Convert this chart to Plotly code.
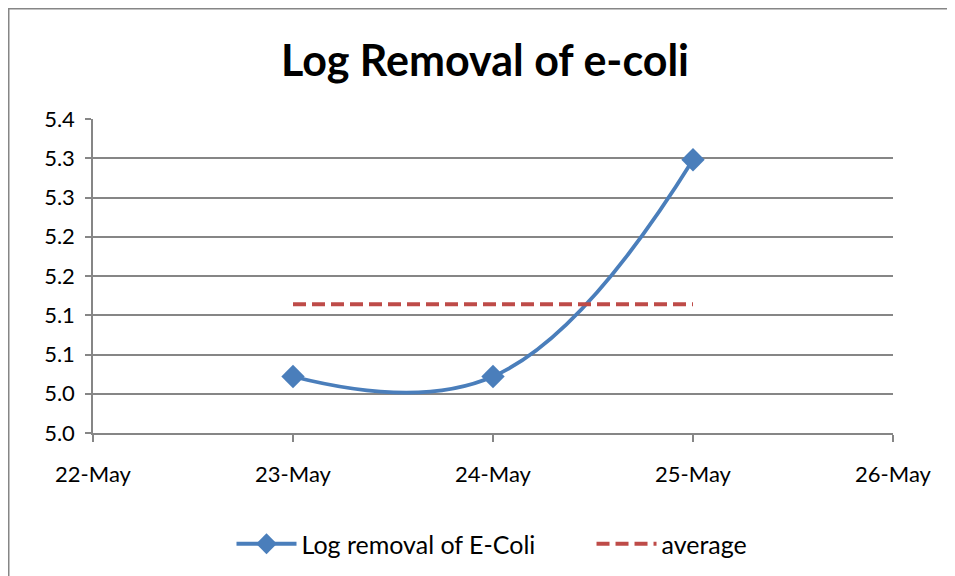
import plotly.graph_objects as go

dates = ["2011-05-23", "2011-05-24", "2011-05-25"]
log_removal = [5.072, 5.072, 5.348]
average = [5.164, 5.164, 5.164]
y_tick_vals = [5.00, 5.05, 5.10, 5.15, 5.20, 5.25, 5.30, 5.35, 5.40]
y_tick_text = ["5.0", "5.0", "5.1", "5.1", "5.2", "5.2", "5.3", "5.3", "5.4"]
x_tick_vals = ["2011-05-22", "2011-05-23", "2011-05-24", "2011-05-25", "2011-05-26"]
x_tick_text = ["22-May", "23-May", "24-May", "25-May", "26-May"]
series_names = ["Log removal of E-Coli", "average"]

font_family = "Lato, 'Open Sans', sans-serif"

fig = go.Figure()
fig.add_trace(go.Scatter(
    x=dates, y=log_removal, name=series_names[0] + "\u00a0" * 8,
    mode="lines+markers", line=dict(color="#4a7ebb", width=3.8, shape="spline", smoothing=1.2),
    marker=dict(symbol="diamond", size=18, color="#4a7ebb"),
))
fig.add_trace(go.Scatter(
    x=dates, y=average, name=series_names[1],
    mode="lines", line=dict(color="#be4b48", width=3.8, dash="13px,6px"),
))

OFF = 8  # page body margin
W, H = 955, 576
L = 93 - OFF
T = 119 - OFF
R = W - (893 - OFF)
B = H - (433 - OFF)
pw, ph = W - L - R, H - T - B

fig.update_layout(
    width=W, height=H,
    margin=dict(l=L, r=R, t=T, b=B),
    paper_bgcolor="white", plot_bgcolor="white",
    font=dict(family=font_family, size=22, color="black"),
    title=dict(text="<b>Log Removal of e-coli</b>", x=(485 - OFF) / W, xanchor="center",
               y=1 - (61 - OFF) / H, yanchor="middle", font=dict(size=43, family=font_family)),
    showlegend=True,
    legend=dict(orientation="h", x=(492 - OFF - L) / pw, xanchor="center",
                y=-(544 - 433) / ph, yanchor="middle",
                font=dict(size=25, family=font_family), itemwidth=60, tracegroupgap=0),
    xaxis=dict(
        type="date", range=["2011-05-22", "2011-05-26"],
        tickvals=x_tick_vals, ticktext=x_tick_text,
        showgrid=False, showline=True, linecolor="#868686", linewidth=1.5,
        ticks="outside", ticklen=7, tickcolor="#868686", tickwidth=1.5,
        zeroline=False, ticklabelstandoff=14,
    ),
    yaxis=dict(
        range=[5.0, 5.4], tickvals=y_tick_vals, ticktext=y_tick_text,
        showgrid=True, gridcolor="#868686", gridwidth=1.5,
        showline=True, linecolor="#868686", linewidth=1.5,
        ticks="outside", ticklen=6, tickcolor="#868686", tickwidth=1.5,
        zeroline=False, ticklabelstandoff=6,
    ),
    shapes=[dict(
        type="rect", xref="paper", yref="paper",
        x0=(0.75 - L) / pw, x1=(W + 20 - L) / pw,
        y0=-(H + 20 - T - ph) / ph, y1=1 + (T - 0.75) / ph,
        line=dict(color="#868686", width=1.5), fillcolor="rgba(0,0,0,0)", layer="below",
    )],
)

fig.write_html("out.html")
